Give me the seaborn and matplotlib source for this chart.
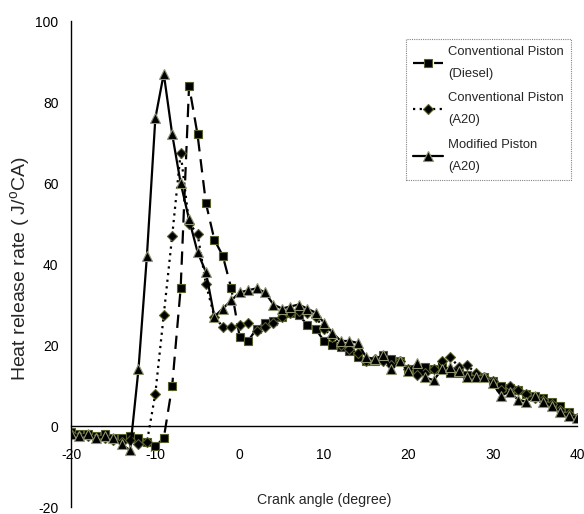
import matplotlib
matplotlib.use("Agg")
import matplotlib.pyplot as plt
import seaborn as sns
import pandas as pd

crank_angle = list(range(-20, 41))

diesel_conv = [-1.5, -2, -2, -2.5, -2, -3, -3, -2.5, -3, -4,
               -5, -3, 10, 34, 84, 72, 55, 46, 42, 34,
               22, 21, 24, 25.5, 26, 27, 28, 27.5, 25, 24,
               21, 20, 19.5, 18.5, 17, 16, 16, 17.5, 16.5, 16,
               14, 14, 14.5, 14, 14.5, 13, 13, 12.5, 12, 12,
               11, 10, 9.5, 9, 8, 7.5, 7, 6, 5, 3.5, 2]

a20_conv = [-2, -2.5, -2.5, -3, -3, -3.5, -4, -3.5, -4.5, -4,
            8, 27.5, 47, 67.5, 50, 47.5, 35, 27, 24.5, 24.5,
            25, 25.5, 23.5, 24.5, 25.5, 27, 28, 28.5, 28, 27,
            24, 22, 20, 19, 18, 16, 16.5, 16, 15, 16,
            14, 12.5, 13, 14, 16, 17, 14.5, 15, 13, 12,
            11, 9, 10, 9, 8, 7, 6.5, 5.5, 4, 3, 2]

a20_modified = [-2, -2.5, -2, -3, -2.5, -3, -4.5, -6, 14, 42,
                76, 87, 72, 60, 51, 43, 38, 27, 29, 31,
                33, 33.5, 34, 33, 30, 29, 29.5, 30, 29, 28,
                25.5, 23, 21, 21, 20.5, 17, 16.5, 17.5, 14, 16,
                13.5, 15.5, 12, 11.3, 14, 14.5, 13.5, 12, 12, 12,
                10.5, 7.5, 8.5, 6.5, 6, 7.5, 6, 5, 3.5, 2.5, 2]

series_labels = ["Conventional Piston\n(Diesel)",
                 "Conventional Piston\n(A20)",
                 "Modified Piston\n(A20)"]

sns.set_style("white")
plt.rcParams["font.family"] = ["Liberation Sans", "DejaVu Sans"]
plt.rcParams["axes.unicode_minus"] = False

fig = plt.figure(figsize=(5.84, 5.14), dpi=100)
ax = fig.add_axes([0.1216, 0.0136, 0.8664, 0.9455])

df = pd.DataFrame({"angle": crank_angle,
                   "diesel": diesel_conv,
                   "a20": a20_conv,
                   "mod": a20_modified})

styles = [
    ("diesel", "s", (0, (6, 3.5)), 6.3, "#55602a"),
    ("a20", "D", (0, (1, 2)), 5.0, "#55602a"),
    ("mod", "^", "-", 6.8, "#8d9470"),
]
for (col, mk, ls, ms, ec), lab in zip(styles, series_labels):
    sns.lineplot(data=df, x="angle", y=col, ax=ax, color="black",
                 marker=mk, markersize=ms, markerfacecolor="black",
                 markeredgecolor=ec, markeredgewidth=0.8,
                 linestyle=ls, linewidth=1.6, label=lab)

ax.set_xlim(-20, 40)
ax.set_ylim(-20, 100)
ax.set_xticks(range(-20, 41, 10))
ax.set_yticks(range(-20, 101, 20))

ax.spines["bottom"].set_position(("data", 0))
ax.spines["top"].set_visible(False)
ax.spines["right"].set_visible(False)
for s in ("left", "bottom"):
    ax.spines[s].set_color("black")
    ax.spines[s].set_linewidth(1.0)

ax.tick_params(axis="both", direction="out", length=4, width=1.0,
               colors="black", labelsize=10)
ax.tick_params(axis="x", pad=12)
ax.tick_params(axis="y", pad=5)

ax.set_xlabel("Crank angle (degree)", fontsize=10.2)
ax.xaxis.set_label_coords(0.5, 0.014)
ax.xaxis.label.set_va("center")

ax.set_ylabel("Heat release rate ( J/$^{\\mathregular{o}}$CA)", fontsize=14)
ax.yaxis.set_label_coords(-0.075, 0.49)

leg = ax.legend(loc="upper left", bbox_to_anchor=(406 / 584, 1 - 39 / 514),
                bbox_transform=fig.transFigure, borderaxespad=0,
                frameon=True, fancybox=False, fontsize=9.4,
                handlelength=2.3, handletextpad=0.35, labelspacing=0.95,
                borderpad=0.55)
for t in leg.get_texts():
    t.set_linespacing(2.1)
leg.get_frame().set_edgecolor("#666666")
leg.get_frame().set_linewidth(0.8)
leg.get_frame().set_linestyle((0, (1, 1)))

fig.savefig("out.png", dpi=100)
